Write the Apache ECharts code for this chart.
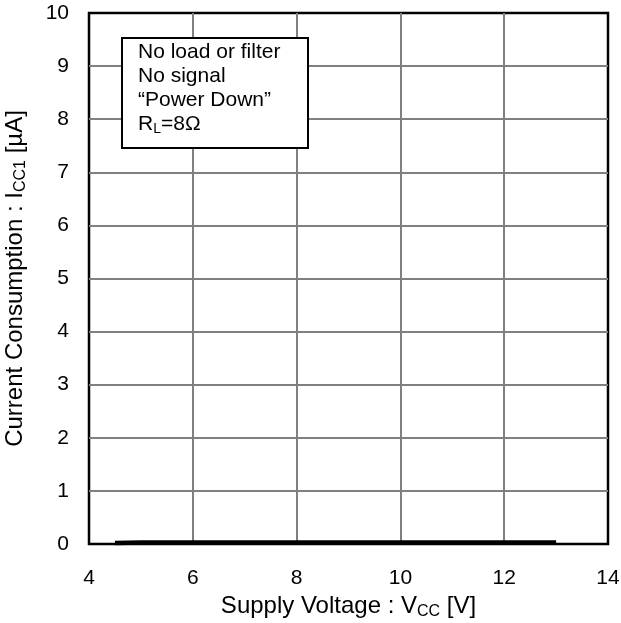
<!DOCTYPE html>
<html>
<head>
<meta charset="utf-8">
<script src="https://cdn.jsdelivr.net/npm/echarts@6/dist/echarts.min.js"></script>
<style>
  html, body { margin: 0; padding: 0; background: #fff; }
  #chart { width: 621px; height: 623px; }
</style>
</head>
<body>
<div id="chart"></div>
<script>
// Supply voltage sweep (V) and the measured power-down current (µA)
const supplyVoltage = [4.5, 5, 6, 7, 8, 9, 10, 11, 12, 13];
const currentUA = [0.02, 0.03, 0.03, 0.03, 0.03, 0.03, 0.03, 0.03, 0.03, 0.03];
const xTicks = [4, 6, 8, 10, 12, 14];
const yTicks = [0, 1, 2, 3, 4, 5, 6, 7, 8, 9, 10];
// Test conditions shown in the note box ({sub|...} marks a subscript)
const conditions = ['No load or filter', 'No signal', '\u201CPower Down\u201D', 'R{sub|L}{n|=8\u03A9}'];

const font = '"Liberation Sans", Arial, sans-serif';
const TICK_FS = 21;
const NAME_FS = 24;
const subStyle = { fontSize: 16, fontFamily: font, color: '#000', verticalAlign: 'bottom', padding: [11, 0, 0, 0] };
const nameStyle = { fontSize: NAME_FS, fontFamily: font, color: '#000' };

const chart = echarts.init(document.getElementById('chart'), null, { renderer: 'canvas' });

chart.setOption({
  animation: false,
  backgroundColor: '#fff',
  grid: {
    left: 89, right: 13, top: 13, bottom: 79,
    outerBoundsMode: 'none',
    containLabel: false,
    show: true, borderColor: '#000', borderWidth: 2.5, backgroundColor: 'transparent'
  },
  xAxis: {
    type: 'value',
    min: xTicks[0], max: xTicks[xTicks.length - 1], interval: 2,
    axisLine: { show: false },
    axisTick: { show: false },
    axisLabel: { color: '#000', fontSize: TICK_FS, fontFamily: font, margin: 24 },
    splitLine: { show: true, showMinLine: false, showMaxLine: false, lineStyle: { color: '#808080', width: 2 } },
    name: '{n|Supply Voltage : V}{sub|CC}{n| [V]}',
    nameLocation: 'middle', nameGap: 46,
    nameTextStyle: {
      color: '#000', fontSize: NAME_FS, fontFamily: font,
      rich: { n: nameStyle, sub: subStyle }
    }
  },
  yAxis: {
    type: 'value',
    min: yTicks[0], max: yTicks[yTicks.length - 1], interval: 1,
    axisLine: { show: false },
    axisTick: { show: false },
    axisLabel: { color: '#000', fontSize: TICK_FS, fontFamily: font, margin: 20 },
    splitLine: { show: true, showMinLine: false, showMaxLine: false, lineStyle: { color: '#808080', width: 2 } },
    name: '{n|Current Consumption : I}{sub|CC1}{n| [\u00B5A]}',
    nameLocation: 'middle', nameGap: 60,
    nameTextStyle: {
      color: '#000', fontSize: NAME_FS, fontFamily: font,
      rich: { n: nameStyle, sub: subStyle }
    }
  },
  series: [{
    type: 'line',
    data: supplyVoltage.map((v, i) => [v, currentUA[i]]),
    showSymbol: false,
    lineStyle: { color: '#000', width: 4.5 },
    z: 5
  }],
  graphic: {
    elements: [
      {
        type: 'rect',
        left: 121, top: 37, z: 100,
        shape: { x: 0, y: 0, width: 186, height: 110 },
        style: { fill: '#fff', stroke: '#000', lineWidth: 2 }
      },
      {
        type: 'text',
        left: 138, top: 40, z: 101,
        style: {
          text: conditions.map(s => s.indexOf('{') >= 0 ? s : '{n|' + s + '}').join('\n'),
          fill: '#000',
          font: '21px ' + font,
          lineHeight: 24,
          rich: {
            n: { fontSize: 21, fontFamily: font, fill: '#000', lineHeight: 24 },
            sub: { fontSize: 14, fontFamily: font, fill: '#000', verticalAlign: 'bottom', padding: [10, 0, 0, 0], lineHeight: 24 }
          }
        }
      }
    ]
  }
});
</script>
</body>
</html>
